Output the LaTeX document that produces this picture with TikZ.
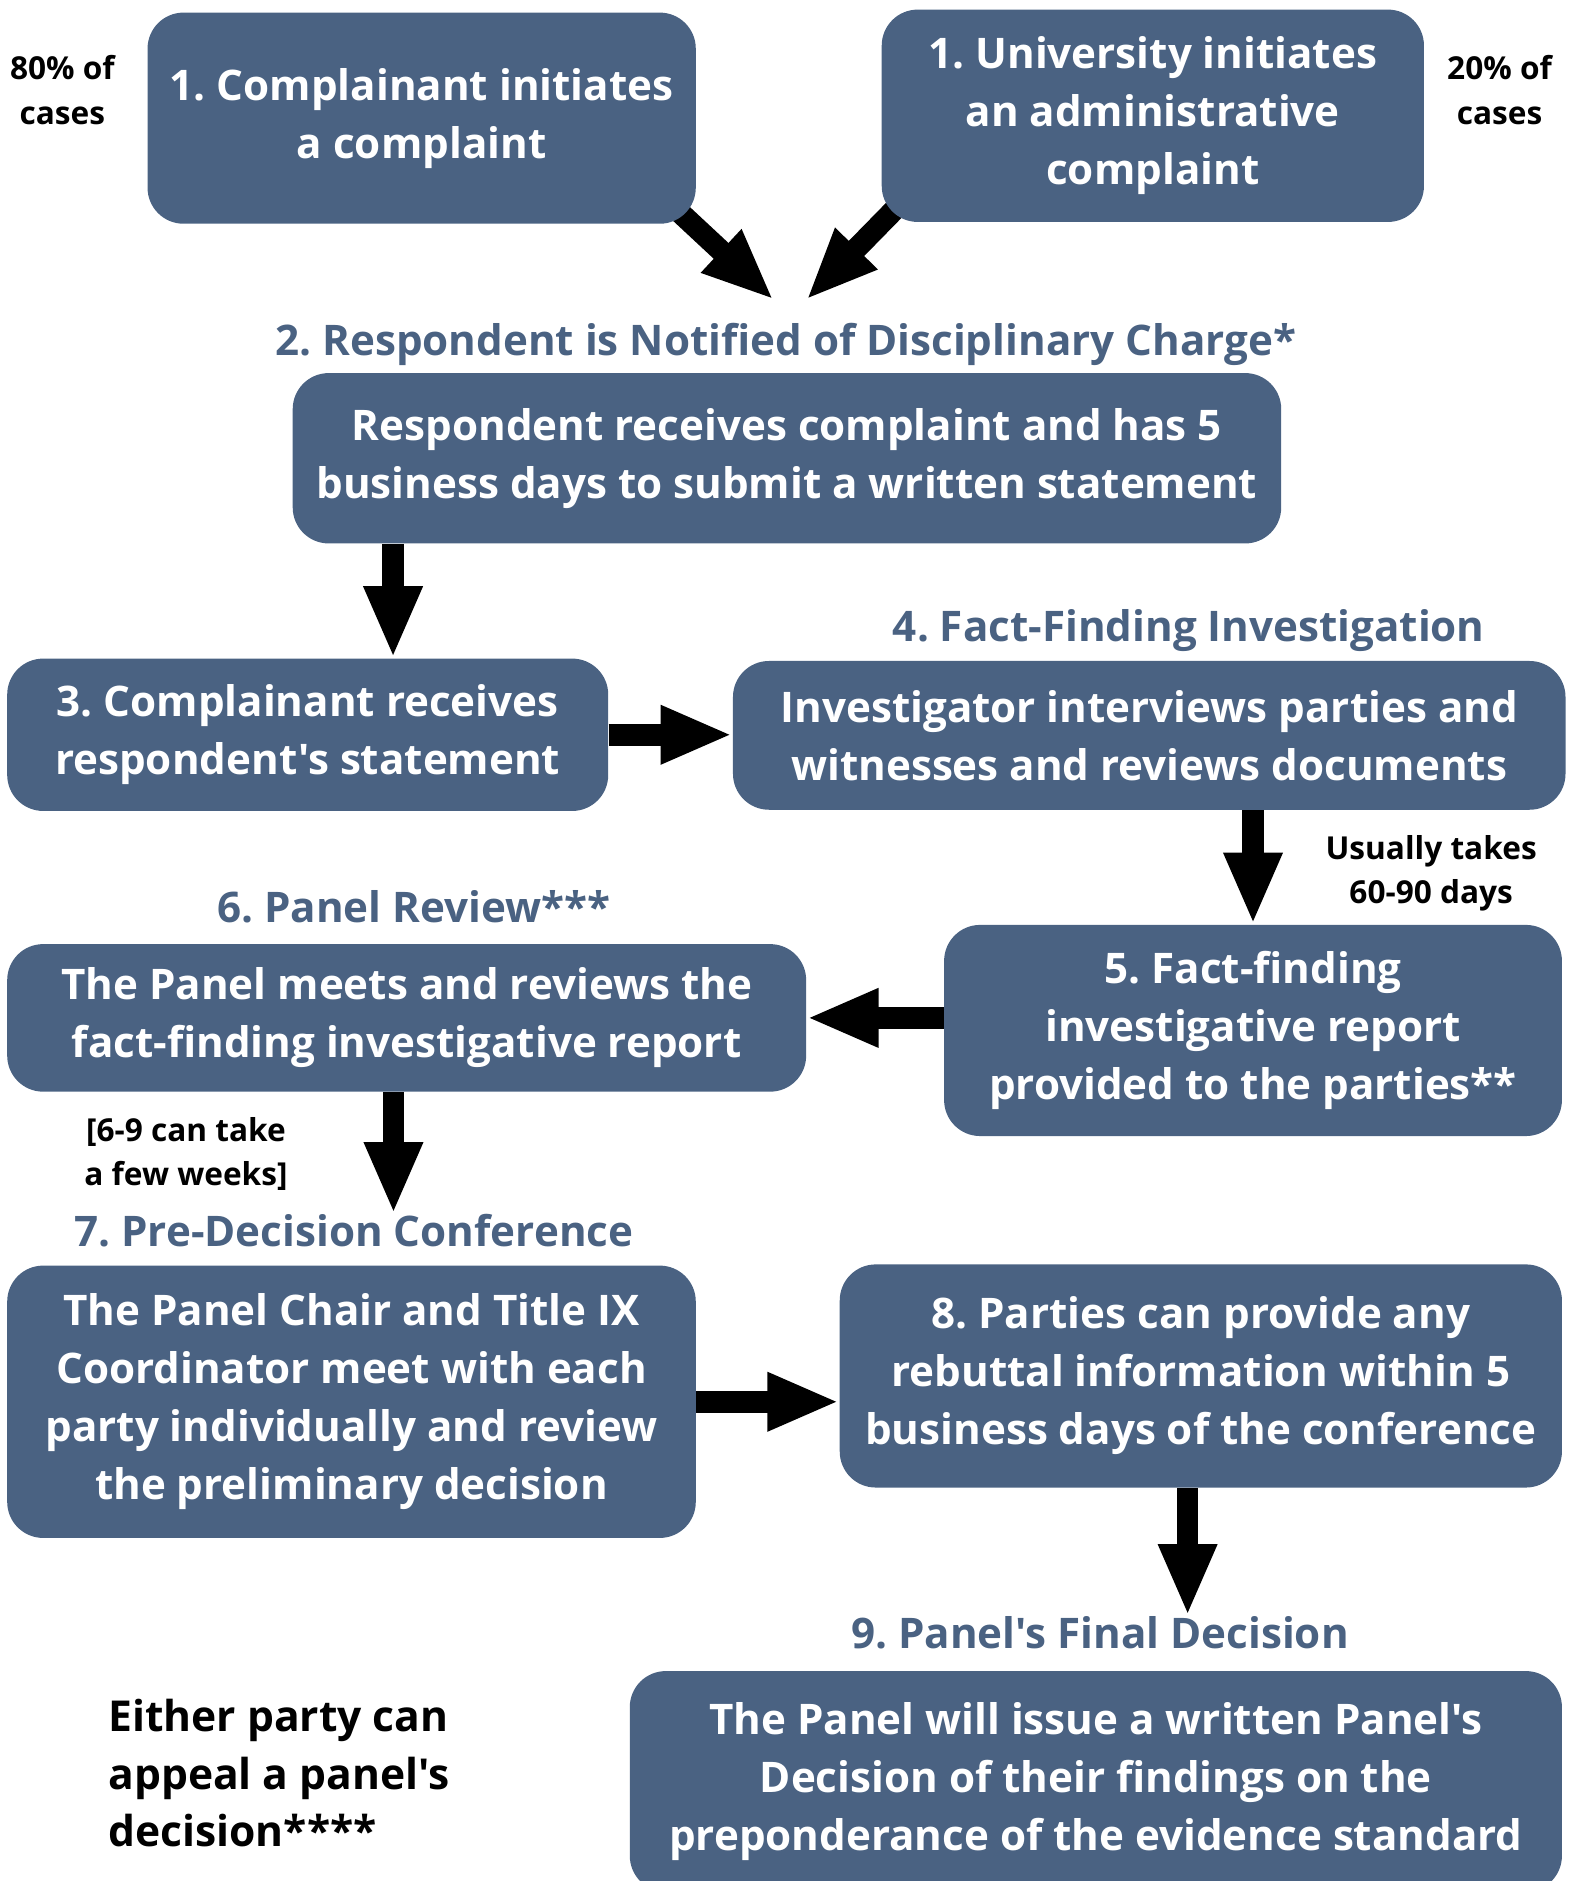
\documentclass[tikz,border=0pt]{standalone}
\usepackage{fontspec}
\setmainfont{Open Sans}[Ligatures=TeXOff]
\usetikzlibrary{calc,arrows.meta,backgrounds}
\usepackage{xcolor}
\definecolor{slate}{RGB}{74,98,130}

\tikzset{
    stepbox/.style={draw=none,fill=slate,rounded corners=0.6cm,text=white,align=center,
        font=\fontsize{20}{27.5}\selectfont\bfseries,inner sep=0pt},
    heading/.style={text=slate,inner sep=0pt,font=\fontsize{20}{27.5}\selectfont\bfseries},
    note/.style={text=black,align=center,inner sep=0pt,font=\fontsize{15}{21}\selectfont\bfseries},
    bigarrow/.style={line width=0.36cm,-{Triangle[width=0.9cm,length=1.2cm]}},
}

\begin{document}
\frenchspacing
\begin{tikzpicture}[x=0.02cm,y=-0.02cm]

    % Page is 1310 by 1568 units, y runs down.
    \useasboundingbox (0,0) rectangle (1310,1568);
    \clip (0,0) rectangle (1310,1568);

    % Two ways in
    \node[stepbox,minimum width=457*0.02cm,minimum height=176*0.02cm] (cmpl) at (351.5,98.5)
        {1. Complainant initiates\\a complaint};
    \node[stepbox,minimum width=452*0.02cm,minimum height=177*0.02cm] (univ) at (961,96.5)
        {1. University initiates\\an administrative\\complaint};
    \node[note] (share80) at (52,75) {80\% of\\cases};
    \node[note] (share20) at (1250,75) {20\% of\\cases};

    % Notification
    \node[heading] (notified) at (655,287) {2. Respondent is Notified of Disciplinary Charge*};
    \coordinate (tipcmpl) at (645,250);
    \coordinate (tipuniv) at (672,250);
    \node[stepbox,minimum width=824*0.02cm,minimum height=142*0.02cm] (statement) at (656,382)
        {Respondent receives complaint and has 5\\business days to submit a written statement};

    \node[stepbox,minimum width=501*0.02cm,minimum height=127*0.02cm] (receives) at (256.5,612.5)
        {3. Complainant receives\\respondent's statement};

    % Investigation
    \node[heading] (facthead) at (991,526) {4. Fact-Finding Investigation};
    \node[stepbox,minimum width=694*0.02cm,minimum height=124*0.02cm] (interview) at (958,613)
        {Investigator interviews parties and\\witnesses and reviews documents};
    \node[note] (takes) at (1193,728) {Usually takes\\60-90 days};
    \node[stepbox,minimum width=515*0.02cm,minimum height=176*0.02cm] (report) at (1044.5,859)
        {5. Fact-finding\\investigative report\\provided to the parties**};

    % Panel
    \node[heading] (panelhead) at (345,756) {6. Panel Review***};
    \node[stepbox,minimum width=666*0.02cm,minimum height=123*0.02cm] (review) at (339,848.5)
        {The Panel meets and reviews the\\fact-finding investigative report};
    \node[note] (weeks) at (155,962) {[6-9 can take\\a few weeks]};

    \node[heading] (confhead) at (295,1026) {7. Pre-Decision Conference};
    \node[stepbox,minimum width=574*0.02cm,minimum height=227*0.02cm] (conference) at (293,1168.5)
        {The Panel Chair and Title IX\\Coordinator meet with each\\party individually and review\\the preliminary decision};
    \node[stepbox,minimum width=602*0.02cm,minimum height=186*0.02cm] (rebuttal) at (1001,1147)
        {8. Parties can provide any\\rebuttal information within 5\\business days of the conference};

    % Final
    \node[heading] (finalhead) at (917,1361) {9. Panel's Final Decision};
    \node[stepbox,minimum width=777*0.02cm,minimum height=184*0.02cm] (final) at (913.5,1485)
        {The Panel will issue a written Panel's\\Decision of their findings on the\\preponderance of the evidence standard};
    \node[note,align=left,anchor=west,font=\fontsize{20.2}{27.5}\selectfont\bfseries] (appeal) at (90,1478)
        {Either party can\\appeal a panel's\\decision****};

    % Arrows
    \begin{scope}[on background layer]
        \draw[bigarrow] ($(cmpl.south east)+(-30,-25)$) -- (tipcmpl);
        \draw[bigarrow] ($(univ.south west)+(30,-30)$) -- (tipuniv);
    \end{scope}
    \draw[bigarrow] ($(statement.south west)+(84,0)$) coordinate (s2) -- (s2 |- receives.north);
    \draw[bigarrow] (receives.east) -- (receives.east -| interview.west);
    \draw[bigarrow] (interview.south -| report.north) -- (report.north);
    \draw[bigarrow] (report.west |- review.east) -- (review.east);
    \draw[bigarrow] ($(review.south)+(-11,0)$) coordinate (s6) -- (s6 |- confhead.north);
    \draw[bigarrow] (conference.east) -- (conference.east -| rebuttal.west);
    \draw[bigarrow] ($(rebuttal.south)+(-11,0)$) coordinate (s8) -- (s8 |- finalhead.north);

\end{tikzpicture}
\end{document}
